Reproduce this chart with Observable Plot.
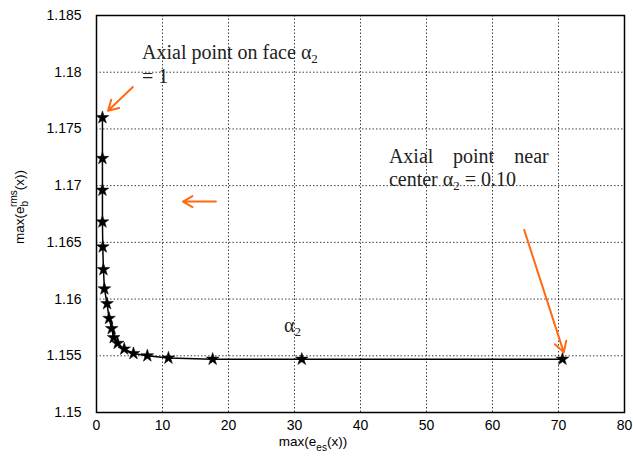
<!DOCTYPE html>
<html>
<head>
<meta charset="utf-8">
<script src="https://cdn.jsdelivr.net/npm/d3@7"></script>
<script src="https://cdn.jsdelivr.net/npm/@observablehq/plot@0.6"></script>
<style>
  html, body { margin: 0; padding: 0; background: #fff; }
  #chart svg { display: block; }
</style>
</head>
<body>
<div id="chart"></div>
<script>
// Data
const esMax = [0.9, 0.9, 0.9, 0.9, 0.95, 1.05, 1.2, 1.6, 1.9, 2.3, 2.6, 3.2, 4.2, 5.6, 7.7, 10.9, 17.6, 31.1, 70.6];
const bMax  = [1.1760, 1.1724, 1.1696, 1.1668, 1.1646, 1.1626, 1.1609, 1.1596, 1.1583, 1.1574, 1.1566, 1.1561, 1.1556, 1.1552, 1.1550, 1.1548, 1.1547, 1.1547, 1.1547];

const xTicks = [0, 10, 20, 30, 40, 50, 60, 70, 80];
const yTicks = [1.15, 1.155, 1.16, 1.165, 1.17, 1.175, 1.18, 1.185];

// Annotation texts and anchors (data units)
const noteText = ["Axial point on face α₂", "= 1", "Axial", "point", "near", "center α₂ = 0.10", "α₂"];
const noteX    = [6.9, 6.9, 44.3, 54.0, 63.3, 44.3, 28.4];
const noteY    = [1.18171, 1.17959, 1.17255, 1.17255, 1.17255, 1.17050, 1.15766];

// Arrows (data units)
const arrX1 = [5.5, 18.1, 64.8];
const arrY1 = [1.1787, 1.1686, 1.1661];
const arrX2 = [1.75, 13.1, 70.8];
const arrY2 = [1.1766, 1.1686, 1.1553];

const points = esMax.map((x, i) => ({x, y: bMax[i]}));
const notes = noteText.map((t, i) => ({t, x: noteX[i], y: noteY[i]}));
const arrows = arrX1.map((x1, i) => ({x1, y1: arrY1[i], x2: arrX2[i], y2: arrY2[i]}));

const fmtY = d => String(+d.toFixed(3));

const svg = Plot.plot({
  width: 633,
  height: 465,
  marginLeft: 96,
  marginRight: 9,
  marginTop: 15,
  marginBottom: 53,
  style: {fontFamily: "Liberation Sans, Arial, sans-serif", fontSize: "13px", color: "#000", background: "#fff"},
  x: {domain: [0, 80], ticks: xTicks},
  y: {domain: [1.15, 1.185], ticks: yTicks},
  marks: [
    Plot.gridX(xTicks, {stroke: "#000", strokeOpacity: 0.75, strokeDasharray: "1.5,2", strokeWidth: 1}),
    Plot.gridY(yTicks, {stroke: "#000", strokeOpacity: 0.75, strokeDasharray: "1.5,2", strokeWidth: 1}),
    Plot.axisX(xTicks, {tickSize: 0, tickPadding: 8, label: null, fontSize: 14}),
    Plot.axisY(yTicks, {tickSize: 0, tickPadding: 15, label: null, tickFormat: fmtY, fontSize: 14}),
    Plot.frame({stroke: "#000", strokeWidth: 1.5}),
    Plot.line(points, {x: "x", y: "y", stroke: "#000", strokeWidth: 1.5}),
    Plot.dot(points, {x: "x", y: "y", symbol: "star", r: 4, fill: "#000", stroke: "#000", strokeWidth: 0.5}),
    Plot.arrow(arrows, {x1: "x1", y1: "y1", x2: "x2", y2: "y2", stroke: "#ff6a13", strokeWidth: 2, headLength: 9}),
    Plot.text(notes, {x: "x", y: "y", text: "t", textAnchor: "start", className: "notes",
      fontFamily: "Liberation Serif, Times New Roman, serif", fontSize: 20, fill: "#222"})
  ]
});

const s = d3.select(svg);

// Render the "₂" in annotations as a proper subscript
s.selectAll(".notes text").each(function() {
  const el = d3.select(this);
  const txt = el.text();
  if (!txt.includes("₂")) return;
  const parts = txt.split("₂");
  el.text(null);
  parts.forEach((p, i) => {
    if (i > 0) {
      el.append("tspan").attr("font-size", 13).attr("dy", 4).text("2");
      if (p.length) el.append("tspan").attr("dy", -4).text(p);
    } else if (p.length) {
      el.append("tspan").text(p);
    }
  });
});

// Axis labels with sub/superscripts
const yl = s.append("text")
  .attr("transform", "translate(24,207) rotate(-90)")
  .attr("text-anchor", "middle")
  .attr("font-family", "Liberation Sans, Arial, sans-serif")
  .attr("font-size", 13.5)
  .attr("fill", "#000");
yl.append("tspan").text("max(e");
yl.append("tspan").attr("font-size", 10).attr("dy", 4).text("b");
yl.append("tspan").attr("font-size", 10).attr("dx", -6).attr("dy", -11).text("rms");
yl.append("tspan").attr("dy", 7).text("(x))");

const xl = s.append("text")
  .attr("x", 313).attr("y", 446)
  .attr("font-family", "Liberation Sans, Arial, sans-serif")
  .attr("font-size", 13.5)
  .attr("fill", "#000");
xl.append("tspan").text("max(e");
xl.append("tspan").attr("font-size", 10).attr("dy", 5).text("es");
xl.append("tspan").attr("dy", -5).text("(x))");

document.getElementById("chart").appendChild(svg);
</script>
</body>
</html>
